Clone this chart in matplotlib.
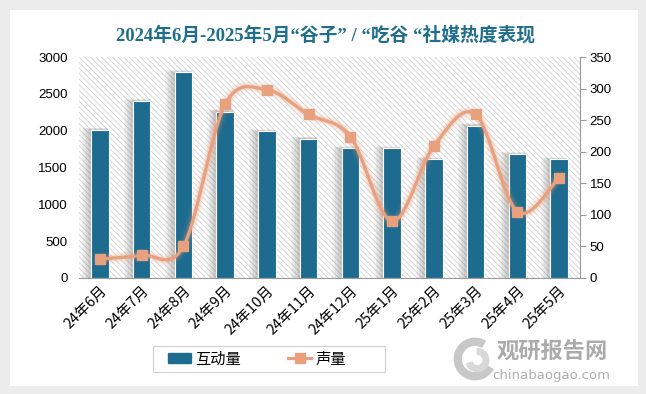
import numpy as np
import matplotlib
matplotlib.use("Agg")
import matplotlib.pyplot as plt
from matplotlib.patches import Rectangle, Wedge
from matplotlib.lines import Line2D

plt.rcParams['font.family'] = ['Liberation Sans', 'Noto Sans CJK SC', 'DejaVu Sans']
plt.rcParams['hatch.linewidth'] = 0.6

months = ['24年6月', '24年7月', '24年8月', '24年9月', '24年10月', '24年11月',
          '24年12月', '25年1月', '25年2月', '25年3月', '25年4月', '25年5月']
interact = [2010, 2400, 2790, 2260, 1990, 1890, 1760, 1760, 1610, 2070, 1680, 1610]
volume = [30, 36, 50, 275, 298, 259, 224, 90, 209, 259, 105, 159]

bar_color = '#1d6b8e'
line_color = '#e9a07e'
title_color = '#1f6e8c'


def smooth(xs, ys, n=30):
    # catmull-rom style smoothing like excel's smoothed line
    xs = np.asarray(xs, float)
    ys = np.asarray(ys, float)
    px = np.concatenate([[xs[0]], xs, [xs[-1]]])
    py = np.concatenate([[ys[0]], ys, [ys[-1]]])
    ox, oy = [], []
    for i in range(1, len(px) - 2):
        p0x, p1x, p2x, p3x = px[i - 1], px[i], px[i + 1], px[i + 2]
        p0y, p1y, p2y, p3y = py[i - 1], py[i], py[i + 1], py[i + 2]
        c1x, c1y = p1x + (p2x - p0x) / 6, p1y + (p2y - p0y) / 6
        c2x, c2y = p2x - (p3x - p1x) / 6, p2y - (p3y - p1y) / 6
        t = np.linspace(0, 1, n)
        ox.append((1 - t) ** 3 * p1x + 3 * (1 - t) ** 2 * t * c1x + 3 * (1 - t) * t ** 2 * c2x + t ** 3 * p2x)
        oy.append((1 - t) ** 3 * p1y + 3 * (1 - t) ** 2 * t * c1y + 3 * (1 - t) * t ** 2 * c2y + t ** 3 * p2y)
    return np.concatenate(ox), np.concatenate(oy)


fig = plt.figure(figsize=(6.46, 3.94), dpi=100)
fig.patch.set_facecolor('#ececec')
fig.patches.append(Rectangle((10 / 646, 8 / 394), 628 / 646, 376 / 394, transform=fig.transFigure,
                             facecolor='white', edgecolor='none', zorder=-5))

ax = fig.add_axes([79 / 646, 1 - 278 / 394, 501 / 646, 221 / 394])
ax.set_facecolor('white')
x = np.arange(len(months))
ax.set_xlim(-0.5, len(months) - 0.5)
ax.set_ylim(0, 3000)
ax.add_patch(Rectangle((-0.5, 0), len(months), 3000, facecolor='white', edgecolor='#d2d2d2',
                       hatch='\\\\\\\\\\\\', linewidth=0, zorder=0))

# soft shadow on the left side of the bars
bw = 0.42
for k in range(6):
    d = 0.035 * (k + 1)
    ax.bar(x + bw / 2 - (bw + d) / 2 - 0.01, np.array(interact) + 5 * (k + 1), width=bw + d,
           color='#444444', alpha=0.05, linewidth=0, zorder=1)
ax.bar(x, interact, width=bw, color=bar_color, edgecolor='white', linewidth=0.8, zorder=2)

ax.set_yticks(range(0, 3001, 500))
ax.set_xticks(x)
ax.set_xticklabels(months, rotation=45, ha='right', rotation_mode='anchor', fontsize=10.5,
                   family=['Noto Sans CJK SC', 'DejaVu Sans'])
ax.tick_params(axis='x', length=0, pad=4)
ax.tick_params(axis='y', length=0, labelsize=9.5, pad=8)
for s in ['top', 'left', 'right']:
    ax.spines[s].set_visible(False)
ax.spines['bottom'].set_color('#9a9a9a')

ax2 = ax.twinx()
ax2.set_ylim(0, 350)
ax2.set_yticks(range(0, 351, 50))
ax2.tick_params(axis='y', length=4, color='#9a9a9a', labelsize=9.5, pad=3)
for s in ['top', 'left', 'bottom']:
    ax2.spines[s].set_visible(False)
ax2.spines['right'].set_color('#9a9a9a')

sx, sy = smooth(x, volume)
for lw, a in [(9, 0.08), (6, 0.12), (4, 0.2)]:
    ax2.plot(sx, sy, color=line_color, linewidth=lw, alpha=a, solid_capstyle='round', zorder=3)
ax2.plot(sx, sy, color=line_color, linewidth=2.3, zorder=4)
ax2.plot(x, volume, linestyle='none', marker='s', markersize=7, color=line_color, zorder=5)

fig.text(325 / 646, 1 - 35 / 394, '2024年6月-2025年5月“谷子” / “吃谷 “社媒热度表现', ha='center', va='center',
         fontsize=13.5, fontweight='bold', color=title_color,
         family=['Liberation Serif', 'Noto Sans CJK SC'])

# legend box
fig.patches.append(Rectangle((153 / 646, 1 - 372 / 394), 232 / 646, 26 / 394, transform=fig.transFigure,
                             facecolor='white', edgecolor='#d0d0d0', linewidth=0.8, zorder=1))
handles = [Rectangle((0, 0), 1, 1, color=bar_color),
           Line2D([0], [0], color=line_color, linewidth=2.3, marker='s', markersize=7)]
fig.legend(handles, ['互动量', '声量'], loc='center', bbox_to_anchor=(257 / 646, 1 - 359 / 394), ncol=2,
           frameon=False, handlelength=1.5, handleheight=0.6, handletextpad=0.25, columnspacing=3.1,
           prop={'family': ['Noto Sans CJK SC', 'DejaVu Sans'], 'size': 11})

# watermark
wax = fig.add_axes([452 / 646, 1 - 382 / 394, 46 / 646, 46 / 394])
wax.set_xlim(-1, 1)
wax.set_ylim(-1, 1)
wax.axis('off')
wax.add_patch(Wedge((0, 0), 0.9, 60, 330, width=0.3, color='#c8c8c8'))
wax.add_patch(Wedge((0.1, -0.05), 0.5, 200, 90, width=0.25, color='#d8d8d8'))
fig.text(552 / 646, 1 - 352 / 394, '观研报告网', ha='center', va='center', fontsize=16, fontweight='bold',
         color='#ababab', family=['Noto Sans CJK SC'])
fig.text(551 / 646, 1 - 375 / 394, 'chinabaogao.com', ha='center', va='center', fontsize=9.5,
         color='#b0b0b0', family=['DejaVu Sans'])

fig.savefig('out.png', dpi=100)
